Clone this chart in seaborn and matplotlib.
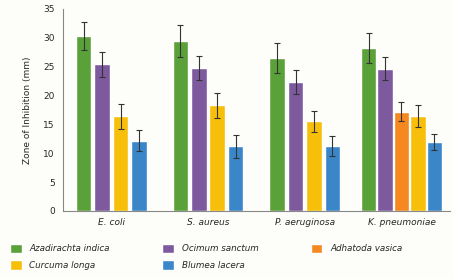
import numpy as np
import pandas as pd
import matplotlib
matplotlib.use("Agg")
import matplotlib.pyplot as plt
from matplotlib.patches import Patch
import seaborn as sns

# ---- data ----
bacteria = ["E. coli", "S. aureus", "P. aeruginosa", "K. pneumoniae"]
extracts = ["Azadirachta indica", "Ocimum sanctum", "Adhatoda vasica",
            "Curcuma longa", "Blumea lacera"]

azadirachta = [30.3, 29.4, 26.5, 28.2]
ocimum = [25.4, 24.7, 22.3, 24.6]
adhatoda = [np.nan, np.nan, np.nan, 17.2]
curcuma = [16.4, 18.3, 15.5, 16.4]
blumea = [12.2, 11.2, 11.3, 11.9]

azadirachta_sd = [2.5, 2.8, 2.6, 2.6]
ocimum_sd = [2.2, 2.1, 2.1, 2.0]
adhatoda_sd = [np.nan, np.nan, np.nan, 1.6]
curcuma_sd = [2.2, 2.2, 1.8, 1.9]
blumea_sd = [1.8, 2.0, 1.7, 1.4]

colors = ["#5ba13a", "#7d5a9e", "#f5881f", "#f7bf0a", "#3a86c8"]

# ---- long table, bars packed inside each group (missing ones skipped) ----
values = [azadirachta, ocimum, adhatoda, curcuma, blumea]
sds = [azadirachta_sd, ocimum_sd, adhatoda_sd, curcuma_sd, blumea_sd]
rows = []
for gi, bac in enumerate(bacteria):
    present = [k for k in range(len(extracts)) if not np.isnan(values[k][gi])]
    slot = min(0.19, 0.85 / len(present))
    for j, k in enumerate(present):
        rows.append({"bacteria": bac, "extract": extracts[k],
                     "pos": gi + (j - (len(present) - 1) / 2) * slot,
                     "value": values[k][gi], "sd": sds[k][gi]})
df = pd.DataFrame(rows)

sns.set_style("white")
plt.rcParams["font.family"] = ["DejaVu Sans"]

fig = plt.figure(figsize=(4.53, 2.79), dpi=100, facecolor="#fdfdf9")
ax = fig.add_axes([0.139, 0.244, 0.854, 0.724])
ax.set_facecolor("#fdfdf9")

sns.barplot(data=df, x="pos", y="value", hue="extract", hue_order=extracts,
            palette=colors, saturation=1, native_scale=True, dodge=False,
            orient="x", width=0.16 / 0.17, errorbar=None, legend=False, ax=ax)
ax.errorbar(df["pos"], df["value"], yerr=df["sd"], fmt="none",
            ecolor="#333333", elinewidth=0.8, capsize=2, capthick=0.8)

ax.set_xlim(-0.5, 3.5)
ax.set_ylim(0, 35)
ax.set_yticks(range(0, 36, 5))
ax.set_xticks(range(len(bacteria)))
ax.set_xticklabels(bacteria, fontstyle="italic", fontsize=6.5)
ax.tick_params(axis="y", labelsize=6.5, length=0, pad=6)
ax.tick_params(axis="x", length=0, pad=5)
ax.set_xlabel("")
ax.set_ylabel("Zone of Inhibition (mm)", fontsize=6.5, labelpad=8)

sns.despine(ax=ax, top=True, right=True)
for side in ["left", "bottom"]:
    ax.spines[side].set_color("#888888")
    ax.spines[side].set_linewidth(0.8)

# legend: row 1 = first three extracts, row 2 = the other two
order = [0, 3, 1, 4, 2]
handles = [Patch(facecolor=colors[k], label=extracts[k]) for k in order]
fig.legend(handles=handles, loc="lower left", bbox_to_anchor=(0.005, 0.005),
           ncol=3, frameon=False, prop={"size": 6.3, "style": "italic"},
           handlelength=1.3, handleheight=1.3, columnspacing=6.0,
           labelspacing=0.75, handletextpad=0.9)

fig.savefig("out.png", dpi=100, facecolor=fig.get_facecolor())
